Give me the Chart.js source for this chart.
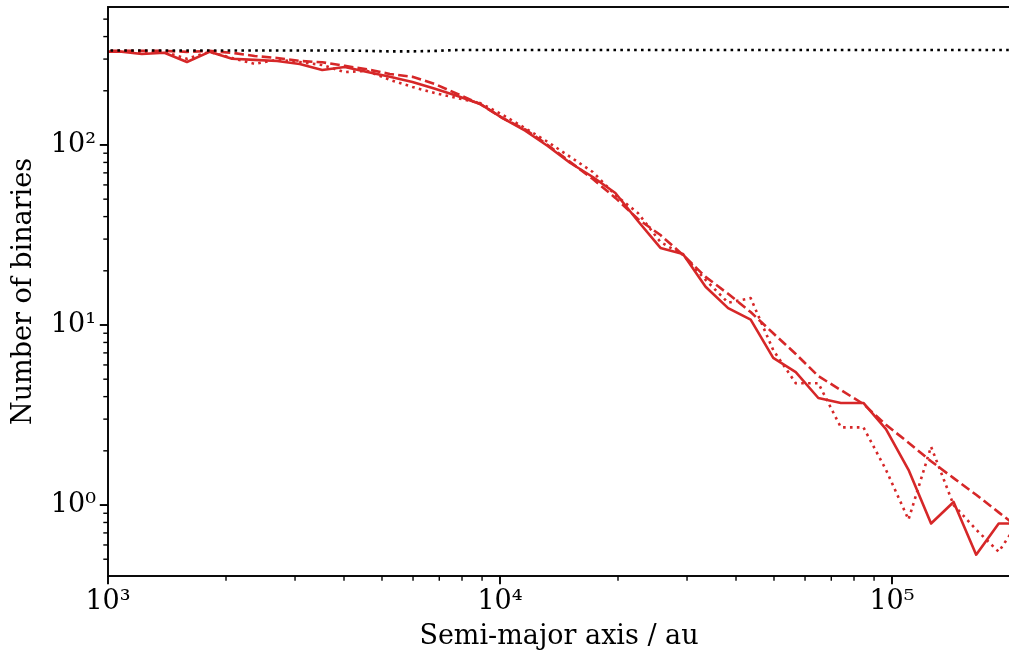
<!DOCTYPE html>
<html lang="en">

<head>
  <meta charset="UTF-8">
  <title>Binaries vs semi-major axis</title>
  <script src="https://cdn.jsdelivr.net/npm/chart.js"></script>
  <style>
    html, body { margin: 0; padding: 0; background: #fff; overflow: hidden; }
    .js { width: 1009px; height: 655px; overflow: hidden; }
  </style>
</head>

<body>
  <div class="js">
    <canvas id="grafico" width="1011" height="655"></canvas>
  </div>

<script>
  // bin centres (au), log spaced
  const semiMajor = [935.9, 1068.5, 1219.8, 1392.6, 1589.8, 1815.0, 2072.0, 2365.5, 2700.5, 3083.0,
    3519.6, 4018.1, 4587.2, 5236.9, 5978.6, 6825.3, 7792.0, 8895.6, 10155, 11593,
    13235, 15110, 17250, 19693, 22482, 25666, 29301, 33451, 38189, 43597,
    49772, 56821, 64869, 74056, 84544, 96518, 110188, 125794, 143610, 163949,
    187168, 213675];

  // initial population (black dotted)
  const initialCounts = [335, 335, 335, 335, 335, 335, 335, 335, 335, 335,
    335, 335, 333, 331, 331, 333, 337, 337, 337, 337,
    337, 337, 337, 337, 337, 337, 337, 337, 337, 337,
    337, 337, 337, 337, 337, 337, 337, 337, 337, 337,
    337, 337];

  // evolved population, solid red
  const solidCounts = [329, 331, 320, 325, 289, 329, 301, 297, 293, 282,
    261, 271, 254, 239, 224, 205, 187, 169, 141, 120,
    98.7, 79.4, 66.4, 54.1, 37.8, 26.8, 24.8, 16.3, 12.4, 10.7,
    6.56, 5.48, 3.93, 3.69, 3.69, 2.64, 1.57, 0.79, 1.04, 0.53,
    0.79, 0.79];

  // evolved population, dashed red
  const dashedCounts = [333, 333, 333, 333, 329, 333, 325, 312, 304, 293,
    288, 275, 263, 248, 239, 218, 192, 169, 141, 122,
    100, 80.4, 64.7, 50.8, 38.8, 31.6, 24.5, 18.5, 14.9, 11.8,
    9.0, 6.9, 5.2, 4.35, 3.64, 2.79, 2.22, 1.75, 1.41, 1.14,
    0.91, 0.73];

  // evolved population, dotted red
  const dottedCounts = [329, 333, 325, 329, 301, 329, 304, 282, 297, 289,
    278, 254, 258, 230, 210, 194, 182, 171, 147, 124,
    104, 85.8, 70.8, 52.7, 41.9, 28.9, 24.5, 17.8, 13.3, 14.1,
    7.26, 4.75, 4.75, 2.70, 2.70, 1.57, 0.83, 2.11, 1.0, 0.73,
    0.55, 0.85];

  // labelled decades on each axis
  const xTickDecades = [3, 4, 5];
  const yTickDecades = [0, 1, 2];
  const superscripts = { '-': '⁻', '0': '⁰', '1': '¹', '2': '²', '3': '³', '4': '⁴', '5': '⁵', '6': '⁶', '7': '⁷', '8': '⁸', '9': '⁹' };

  const vermelho = '#d62728';
  const lw = 2.6;
  const fonte = 'DejaVu Serif';
  const tamanho = 27;

  function pontos(valores) {
    return semiMajor.map(function (x, i) { return { x: x, y: valores[i] }; });
  }

  function potencia(exp) {
    return '10' + String(exp).split('').map(function (c) { return superscripts[c]; }).join('');
  }

  // log ticks: 1..9 x 10^n inside [min, max]
  function ticksLog(min, max) {
    let lista = [];
    for (let d = Math.floor(Math.log10(min)); d <= Math.ceil(Math.log10(max)); d++) {
      for (let m = 1; m <= 9; m++) {
        let v = m * Math.pow(10, d);
        if (v >= min * 0.9999 && v <= max * 1.0001) lista.push({ value: v });
      }
    }
    return lista;
  }

  function ehDecada(v, decadas) {
    let e = Math.round(Math.log10(v));
    return Math.abs(Math.log10(v) - e) < 1e-6 && decadas.indexOf(e) >= 0;
  }

  function ehMajor(v) {
    return Math.abs(Math.log10(v) - Math.round(Math.log10(v))) < 1e-6;
  }

  // spines and tick marks (major longer than minor)
  const moldura = {
    id: 'moldura',
    afterDraw(chart) {
      const ctx = chart.ctx;
      const area = chart.chartArea;
      const sx = chart.scales.x;
      const sy = chart.scales.y;
      ctx.save();
      ctx.strokeStyle = '#000';
      ctx.lineWidth = 1.9;
      ctx.strokeRect(area.left, area.top, area.right - area.left, area.bottom - area.top);

      sx.ticks.forEach(function (t) {
        const px = sx.getPixelForValue(t.value);
        const major = ehMajor(t.value);
        ctx.lineWidth = major ? 1.9 : 1.4;
        ctx.beginPath();
        ctx.moveTo(px, area.bottom);
        ctx.lineTo(px, area.bottom + (major ? 8.2 : 4.7));
        ctx.stroke();
      });
      sy.ticks.forEach(function (t) {
        const py = sy.getPixelForValue(t.value);
        const major = ehMajor(t.value);
        ctx.lineWidth = major ? 1.9 : 1.4;
        ctx.beginPath();
        ctx.moveTo(area.left, py);
        ctx.lineTo(area.left - (major ? 8.2 : 4.7), py);
        ctx.stroke();
      });
      ctx.restore();
    }
  };

  const dados = {
    datasets: [
      {
        label: 'initial',
        data: pontos(initialCounts),
        borderColor: '#000',
        borderWidth: lw,
        borderDash: [lw, 1.65 * lw]
      },
      {
        label: 'solid',
        data: pontos(solidCounts),
        borderColor: vermelho,
        borderWidth: lw
      },
      {
        label: 'dashed',
        data: pontos(dashedCounts),
        borderColor: vermelho,
        borderWidth: lw,
        borderDash: [3.7 * lw, 1.6 * lw]
      },
      {
        label: 'dotted',
        data: pontos(dottedCounts),
        borderColor: vermelho,
        borderWidth: lw,
        borderDash: [lw, 1.65 * lw]
      }
    ]
  };

  const config = {
    type: 'line',
    data: dados,
    options: {
      responsive: false,
      animation: false,
      devicePixelRatio: 1,
      layout: { padding: { top: 7, right: 1, left: 0, bottom: 0 } },
      elements: {
        point: { radius: 0 },
        line: { tension: 0, borderJoinStyle: 'round', fill: false }
      },
      plugins: {
        legend: { display: false },
        tooltip: { enabled: false }
      },
      scales: {
        x: {
          type: 'logarithmic',
          min: 1000,
          max: 200000,
          grid: { display: false, drawTicks: false },
          border: { display: false },
          afterBuildTicks: function (scale) { scale.ticks = ticksLog(1000, 200000); },
          afterFit: function (scale) {
            scale.height = 79;
            scale.paddingLeft = 0;
            scale.paddingRight = 0;
          },
          ticks: {
            autoSkip: false,
            maxRotation: 0,
            padding: 10,
            color: '#000',
            font: { family: fonte, size: tamanho },
            callback: function (v) { return ehDecada(v, xTickDecades) ? potencia(Math.round(Math.log10(v))) : ''; }
          },
          title: {
            display: true,
            text: 'Semi-major axis / au',
            color: '#000',
            font: { family: fonte, size: tamanho },
            padding: { top: 0, bottom: 2 }
          }
        },
        y: {
          type: 'logarithmic',
          min: 0.4034,
          max: 584,
          grid: { display: false, drawTicks: false },
          border: { display: false },
          afterBuildTicks: function (scale) { scale.ticks = ticksLog(0.4034, 584); },
          afterFit: function (scale) {
            scale.width = 108;
            scale.paddingTop = 0;
            scale.paddingBottom = 0;
          },
          ticks: {
            autoSkip: false,
            padding: 12,
            color: '#000',
            font: { family: fonte, size: tamanho },
            callback: function (v) { return ehDecada(v, yTickDecades) ? potencia(Math.round(Math.log10(v))) : ''; }
          },
          title: {
            display: true,
            text: 'Number of binaries',
            color: '#000',
            font: { family: fonte, size: tamanho },
            padding: { top: 8, bottom: 0 }
          }
        }
      }
    },
    plugins: [moldura]
  };

  new Chart(document.getElementById('grafico'), config);
</script>
</body>

</html>
